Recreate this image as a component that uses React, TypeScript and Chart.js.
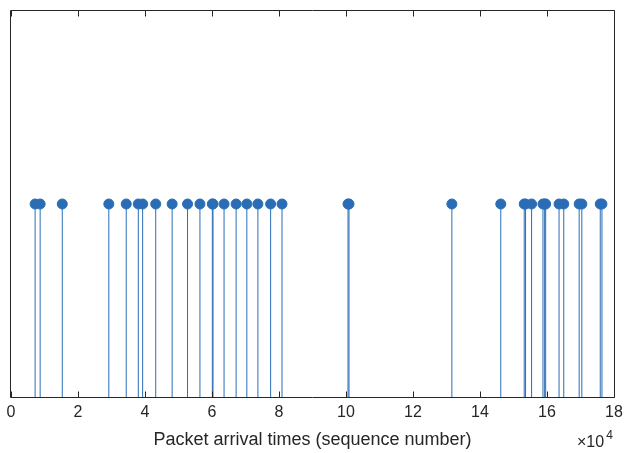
import React, { useEffect, useRef } from 'react';
import { Chart, registerables } from 'chart.js';

Chart.register(...registerables);

// Packet arrival sequence numbers
const arrivalTimes = [
  7200, 8700, 15300, 29200, 34400, 38000, 39300, 43200, 48100, 52700,
  56400, 60100, 60300, 63600, 67200, 70400, 73700, 77500, 80900,
  100600, 100900, 131600, 146200, 153200, 153600, 155400, 158800,
  159300, 159600, 163600, 165000, 169600, 170400, 175900, 176400,
];
const stemValue = 1;
const xTickValues = [0, 20000, 40000, 60000, 80000, 100000, 120000, 140000, 160000, 180000];
const xTickLabels = ['0', '2', '4', '6', '8', '10', '12', '14', '16', '18'];
const xMin = 0;
const xMax = 180000;
const yMin = 0;
const yMax = 2;
const xTitle = 'Packet arrival times (sequence number)';
const exponentBase = '\u00d710';
const exponentPower = '4';

const BLUE = '#2A6DB6';
const AXIS = '#262626';
const FONT = '"Liberation Sans", Arial, Helvetica, sans-serif';

const boxPlugin = {
  id: 'matlabBox',
  afterDraw(chart: any) {
    const { ctx, chartArea } = chart;
    const { left, right, top, bottom } = chartArea;
    const xs = chart.scales.x;
    ctx.save();
    ctx.strokeStyle = AXIS;
    ctx.lineWidth = 1;
    const l = Math.round(left) - 0.5;
    const r = Math.round(right) + 0.5;
    const t = Math.round(top) - 0.5;
    const b = Math.round(bottom) + 0.5;
    ctx.beginPath();
    ctx.moveTo(l, t);
    ctx.lineTo(r, t);
    ctx.lineTo(r, b);
    ctx.lineTo(l, b);
    ctx.closePath();
    ctx.stroke();
    // inward tick marks on bottom and top
    ctx.beginPath();
    xTickValues.forEach((v) => {
      const px = Math.round(xs.getPixelForValue(v)) + 0.5;
      ctx.moveTo(px, b);
      ctx.lineTo(px, b - 6);
      ctx.moveTo(px, t);
      ctx.lineTo(px, t + 6);
    });
    ctx.stroke();
    // exponent label
    ctx.fillStyle = AXIS;
    ctx.textBaseline = 'alphabetic';
    ctx.textAlign = 'left';
    ctx.font = `16px ${FONT}`;
    const baseW = ctx.measureText(exponentBase).width;
    const bx = 577;
    const by = 447;
    ctx.fillText(exponentBase, bx, by);
    ctx.font = `12px ${FONT}`;
    ctx.fillText(exponentPower, bx + baseW + 2, by - 8);
    ctx.restore();
  },
};

export default function App() {
  const canvasRef = useRef<HTMLCanvasElement | null>(null);

  useEffect(() => {
    document.body.style.margin = '0';
    const canvas = canvasRef.current;
    if (!canvas) return;

    const stemData: any[] = [];
    arrivalTimes.forEach((t) => {
      stemData.push({ x: t, y: yMin });
      stemData.push({ x: t, y: stemValue });
      stemData.push({ x: t, y: null });
    });
    const markerData = arrivalTimes.map((t) => ({ x: t, y: stemValue }));

    const chart = new Chart(canvas, {
      type: 'scatter',
      data: {
        datasets: [
          {
            label: 'stems',
            data: stemData,
            showLine: true,
            spanGaps: false,
            borderColor: BLUE,
            borderWidth: 1,
            pointRadius: 0,
            pointHoverRadius: 0,
          },
          {
            label: 'markers',
            data: markerData,
            showLine: false,
            backgroundColor: BLUE,
            borderColor: BLUE,
            borderWidth: 1,
            pointRadius: 5,
            pointHoverRadius: 5,
          },
        ],
      },
      options: {
        animation: false,
        responsive: false,
        events: [],
        layout: { padding: { left: 11, right: 10, top: 11, bottom: 0 } },
        plugins: {
          legend: { display: false },
          tooltip: { enabled: false },
        },
        scales: {
          x: {
            type: 'linear',
            min: xMin,
            max: xMax,
            afterFit: (scale: any) => {
              scale.height = 56;
              scale.paddingLeft = 0;
              scale.paddingRight = 0;
            },
            afterBuildTicks: (scale: any) => {
              scale.ticks = xTickValues.map((v) => ({ value: v }));
            },
            border: { display: false },
            grid: { display: false, drawTicks: false },
            ticks: {
              padding: 6,
              color: AXIS,
              font: { family: FONT, size: 16 },
              maxRotation: 0,
              autoSkip: false,
              callback: (v: any) => {
                const i = xTickValues.indexOf(Number(v));
                return i >= 0 ? xTickLabels[i] : '';
              },
            },
            title: {
              display: true,
              text: xTitle,
              color: AXIS,
              font: { family: FONT, size: 18 },
              padding: { top: 0, bottom: 2 },
            },
          },
          y: {
            type: 'linear',
            min: yMin,
            max: yMax,
            display: false,
          },
        },
      },
      plugins: [boxPlugin],
    });

    return () => {
      chart.destroy();
    };
  }, []);

  return (
    <div style={{ position: 'absolute', left: 0, top: 0, width: 624, height: 453, background: '#fff' }}>
      <canvas ref={canvasRef} width={624} height={453} style={{ display: 'block' }} />
    </div>
  );
}
